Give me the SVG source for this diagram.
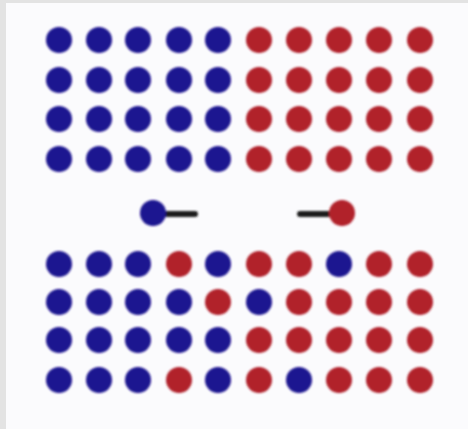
<svg xmlns="http://www.w3.org/2000/svg" width="468" height="429" viewBox="0 0 468 429">
<defs>
<style>
.b{fill:#1b1290}
.r{fill:#b1202b}
.stub{stroke:#1e1e1e;stroke-width:6;stroke-linecap:round;fill:none}
</style>
<filter id="soft" x="-10%" y="-10%" width="120%" height="120%"><feGaussianBlur stdDeviation="1"/></filter>
</defs>
<rect x="0" y="0" width="468" height="429" fill="#e3e3e3"/>
<rect x="6" y="3" width="462" height="426" fill="#fbfbfd"/>
<g filter="url(#soft)">
<g id="top-grid">
<g id="t-row1">
<circle class="b" cx="59" cy="40" r="13"/><circle class="b" cx="99" cy="40" r="13"/><circle class="b" cx="138" cy="40" r="13"/><circle class="b" cx="179" cy="40" r="13"/><circle class="b" cx="218" cy="40" r="13"/>
<circle class="r" cx="259" cy="40" r="13"/><circle class="r" cx="299" cy="40" r="13"/><circle class="r" cx="339" cy="40" r="13"/><circle class="r" cx="379" cy="40" r="13"/><circle class="r" cx="420" cy="40" r="13"/>
</g>
<g id="t-row2">
<circle class="b" cx="59" cy="80" r="13"/><circle class="b" cx="99" cy="80" r="13"/><circle class="b" cx="138" cy="80" r="13"/><circle class="b" cx="179" cy="80" r="13"/><circle class="b" cx="218" cy="80" r="13"/>
<circle class="r" cx="259" cy="80" r="13"/><circle class="r" cx="299" cy="80" r="13"/><circle class="r" cx="339" cy="80" r="13"/><circle class="r" cx="379" cy="80" r="13"/><circle class="r" cx="420" cy="80" r="13"/>
</g>
<g id="t-row3">
<circle class="b" cx="59" cy="119" r="13"/><circle class="b" cx="99" cy="119" r="13"/><circle class="b" cx="138" cy="119" r="13"/><circle class="b" cx="179" cy="119" r="13"/><circle class="b" cx="218" cy="119" r="13"/>
<circle class="r" cx="259" cy="119" r="13"/><circle class="r" cx="299" cy="119" r="13"/><circle class="r" cx="339" cy="119" r="13"/><circle class="r" cx="379" cy="119" r="13"/><circle class="r" cx="420" cy="119" r="13"/>
</g>
<g id="t-row4">
<circle class="b" cx="59" cy="159" r="13"/><circle class="b" cx="99" cy="159" r="13"/><circle class="b" cx="138" cy="159" r="13"/><circle class="b" cx="179" cy="159" r="13"/><circle class="b" cx="218" cy="159" r="13"/>
<circle class="r" cx="259" cy="159" r="13"/><circle class="r" cx="299" cy="159" r="13"/><circle class="r" cx="339" cy="159" r="13"/><circle class="r" cx="379" cy="159" r="13"/><circle class="r" cx="420" cy="159" r="13"/>
</g>
</g>
<g id="connectors">
<line class="stub" x1="158" y1="214" x2="195" y2="214"/>
<line class="stub" x1="300" y1="214" x2="337" y2="214"/>
</g>
<g id="blue-mover"><circle class="b" cx="153" cy="213" r="13"/></g>
<g id="red-mover"><circle class="r" cx="342" cy="213" r="13"/></g>
<g id="bottom-grid">
<g id="b-row1">
<circle class="b" cx="59" cy="264" r="13"/><circle class="b" cx="99" cy="264" r="13"/><circle class="b" cx="138" cy="264" r="13"/><circle class="r" cx="179" cy="264" r="13"/><circle class="b" cx="218" cy="264" r="13"/>
<circle class="r" cx="259" cy="264" r="13"/><circle class="r" cx="299" cy="264" r="13"/><circle class="b" cx="339" cy="264" r="13"/><circle class="r" cx="379" cy="264" r="13"/><circle class="r" cx="420" cy="264" r="13"/>
</g>
<g id="b-row2">
<circle class="b" cx="59" cy="302" r="13"/><circle class="b" cx="99" cy="302" r="13"/><circle class="b" cx="138" cy="302" r="13"/><circle class="b" cx="179" cy="302" r="13"/><circle class="r" cx="218" cy="302" r="13"/>
<circle class="b" cx="259" cy="302" r="13"/><circle class="r" cx="299" cy="302" r="13"/><circle class="r" cx="339" cy="302" r="13"/><circle class="r" cx="379" cy="302" r="13"/><circle class="r" cx="420" cy="302" r="13"/>
</g>
<g id="b-row3">
<circle class="b" cx="59" cy="340" r="13"/><circle class="b" cx="99" cy="340" r="13"/><circle class="b" cx="138" cy="340" r="13"/><circle class="b" cx="179" cy="340" r="13"/><circle class="b" cx="218" cy="340" r="13"/>
<circle class="r" cx="259" cy="340" r="13"/><circle class="r" cx="299" cy="340" r="13"/><circle class="r" cx="339" cy="340" r="13"/><circle class="r" cx="379" cy="340" r="13"/><circle class="r" cx="420" cy="340" r="13"/>
</g>
<g id="b-row4">
<circle class="b" cx="59" cy="380" r="13"/><circle class="b" cx="99" cy="380" r="13"/><circle class="b" cx="138" cy="380" r="13"/><circle class="r" cx="179" cy="380" r="13"/><circle class="b" cx="218" cy="380" r="13"/>
<circle class="r" cx="259" cy="380" r="13"/><circle class="b" cx="299" cy="380" r="13"/><circle class="r" cx="339" cy="380" r="13"/><circle class="r" cx="379" cy="380" r="13"/><circle class="r" cx="420" cy="380" r="13"/>
</g>
</g>
</g>
</svg>
